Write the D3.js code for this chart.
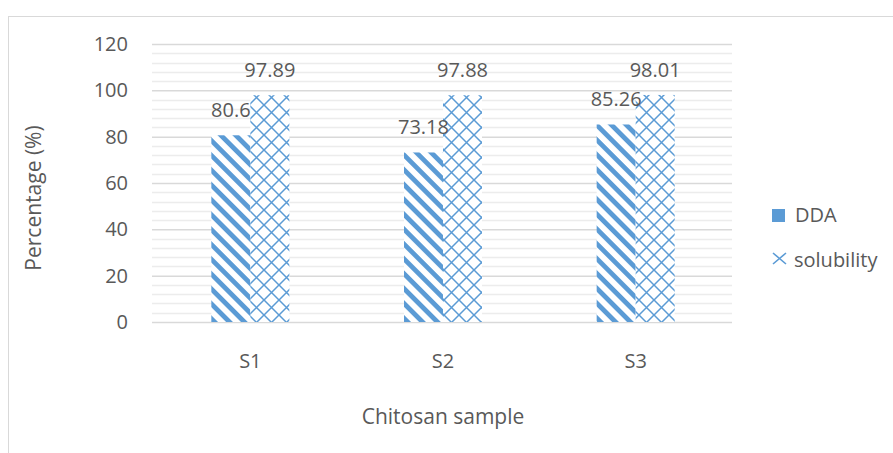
<!DOCTYPE html>
<html><head><meta charset="utf-8">
<script src="https://cdn.jsdelivr.net/npm/d3@7"></script>
<style>body{margin:0;background:#fff}svg{display:block}text{font-family:"Open Sans",sans-serif;fill:#595959}</style>
</head><body><svg id="c" width="893" height="453"></svg>
<script>
const categories = ["S1","S2","S3"];
const seriesNames = ["DDA","solubility"];
const dda = [80.6, 73.18, 85.26];
const solubility = [97.89, 97.88, 98.01];
const yTicks = [0,20,40,60,80,100,120];
const labels = [["80.6","73.18","85.26"],["97.89","97.88","98.01"]];

const svg = d3.select("#c");
const FONT = '"Open Sans", sans-serif';
const blue = "#5b9bd5";
const defs = svg.append("defs");
// wide downward diagonal
const p1 = defs.append("pattern").attr("id","pDDA").attr("patternUnits","userSpaceOnUse")
  .attr("width",10.5).attr("height",10.5).attr("patternTransform","rotate(45)");
p1.append("rect").attr("width",10.5).attr("height",10.5).attr("fill","#fff");
p1.append("rect").attr("width",10.5).attr("height",4.8).attr("fill",blue);
// diagonal crosshatch
const p2 = defs.append("pattern").attr("id","pSol").attr("patternUnits","userSpaceOnUse")
  .attr("width",15).attr("height",15).attr("x",249).attr("y",0);
p2.append("rect").attr("width",15).attr("height",15).attr("fill","#fff");
p2.append("path").attr("d","M0,0L15,15M15,0L0,15").attr("stroke",blue).attr("stroke-width",1.5).attr("fill","none");

// outer chart border
svg.append("rect").attr("x",8.5).attr("y",16.5).attr("width",900).attr("height",460)
  .attr("fill","none").attr("stroke","#d9d9d9");

const x0 = d3.scaleBand().domain(categories).range([154,732]);
const x1 = d3.scaleBand().domain(seriesNames).range([0,x0.bandwidth()]).paddingOuter(1.47);
const y = d3.scaleLinear().domain([0,120]).range([322,44]);

const g = svg.append("g");
// minor gridlines
d3.range(0,121,4).forEach(v=>{
  if (v%20!==0) g.append("line").attr("x1",152).attr("x2",732).attr("y1",Math.round(y(v))+0.5).attr("y2",Math.round(y(v))+0.5)
    .attr("stroke","#ececec").attr("stroke-width",1.5);
});
const ya = d3.axisLeft(y).tickValues(yTicks).tickSize(-(732-152)).tickPadding(24);
const yg = g.append("g").attr("transform","translate(152,0)").call(ya);
yg.attr("font-family",FONT).attr("font-size",20);
yg.select(".domain").remove();
yg.selectAll(".tick line").attr("stroke","#d9d9d9").attr("stroke-width",1.5);
yg.selectAll(".tick text").style("fill","#595959");

const xa = d3.axisBottom(x0).tickSize(0).tickPadding(32);
const xg = g.append("g").attr("transform","translate(0,322)").call(xa);
xg.attr("font-family",FONT).attr("font-size",20);
xg.select(".domain").remove();
xg.selectAll(".tick text").style("fill","#595959");

const data = [dda, solubility];
const fills = ["url(#pDDA)","url(#pSol)"];
const bars = g.append("g"), lbls = g.append("g");
data.forEach((vals,si)=>{
  vals.forEach((v,ci)=>{
    const xx = x0(categories[ci]) + x1(seriesNames[si]);
    bars.append("rect").attr("x",xx).attr("y",y(v)).attr("width",x1.bandwidth()).attr("height",y(0)-y(v))
      .attr("fill",fills[si]);
    lbls.append("text").attr("x",xx + x1.bandwidth()/2).attr("y",y(v)-18)
      .attr("text-anchor","middle").attr("font-size",20).text(labels[si][ci]);
  });
});

svg.append("text").attr("transform","translate(41,198) rotate(-90)").attr("text-anchor","middle")
  .attr("font-size",21).text("Percentage (%)");
svg.append("text").attr("x",443).attr("y",424).attr("text-anchor","middle")
  .attr("font-size",21).text("Chitosan sample");

// legend
const lg = svg.append("g");
lg.append("rect").attr("x",772).attr("y",209).attr("width",13).attr("height",13).attr("fill",blue);
lg.append("text").attr("x",795).attr("y",222).attr("font-size",20).text("DDA");
lg.append("path").attr("d","M773,253L786,264M786,253L773,264").attr("stroke",blue).attr("stroke-width",1.6);
lg.append("text").attr("x",794).attr("y",267).attr("font-size",20).text("solubility");
</script></body></html>
